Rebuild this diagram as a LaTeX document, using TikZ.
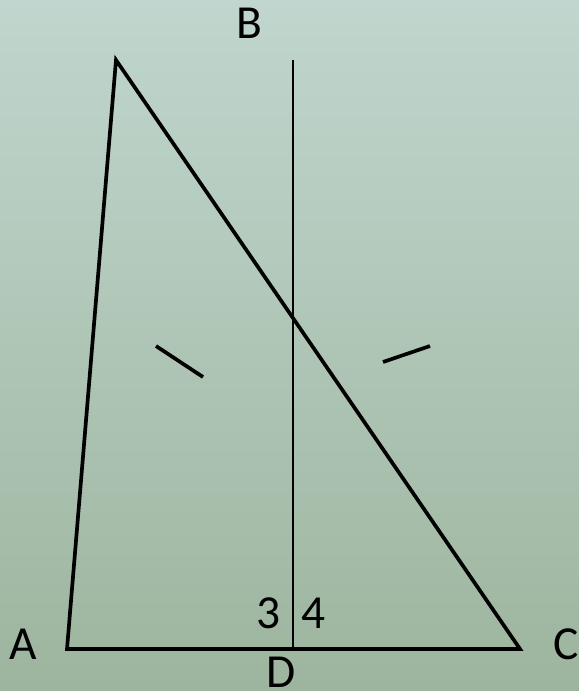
\documentclass[tikz,border=0pt]{standalone}
\usepackage{fontspec}
\setmainfont{Carlito}
\usetikzlibrary{positioning, calc}
\definecolor{bgtop}{RGB}{192,214,206}
\definecolor{bgbot}{RGB}{157,181,158}

\begin{document}
\begin{tikzpicture}[
  x=0.02cm, y=-0.02cm,
  side/.style={draw=black, line width=2.1pt, line join=miter},
  perp/.style={draw=black, line width=1pt},
  tick/.style={draw=black, line width=2.1pt},
  lbl/.style={font=\fontsize{27}{30}\selectfont, inner sep=0pt}
]
  % background
  \shade[top color=bgtop, bottom color=bgbot] (0,0) rectangle (579,691);
  \useasboundingbox (0,0) rectangle (579,691);

  \coordinate (apex) at (116,60);
  \coordinate (a)    at (67,649);
  \coordinate (c)    at (520,649);
  \coordinate (b)    at (293,60);
  \coordinate (d)    at (293,649);

  % triangle and the line through D
  \draw[side] (apex) -- (a) -- (c) -- cycle;
  \draw[perp] (b) -- (d);

  % equal marks
  \coordinate (m1) at (156,346);
  \coordinate (m2) at (203,377);
  \coordinate (m3) at (383,362);
  \coordinate (m4) at (430,346);
  \draw[tick] (m1) -- (m2);
  \draw[tick] (m3) -- (m4);

  \node[lbl] (lblB) at (249,23)  {B};
  \node[lbl] (lblA) at (23,644)  {A};
  \node[lbl] (lblC) at (566,644) {C};
  \node[lbl] (lblD) at (281,672) {D};
  \node[lbl] (lbl3) at (269,613) {3};
  \node[lbl] (lbl4) at (314,613) {4};
\end{tikzpicture}
\end{document}
